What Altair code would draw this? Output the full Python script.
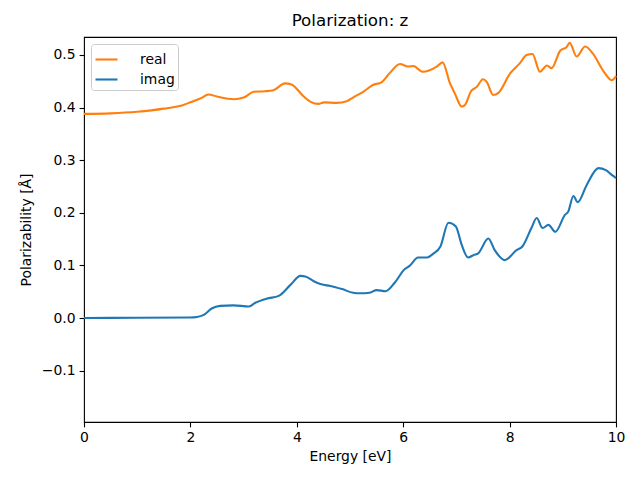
import altair as alt
import pandas as pd

energy_real = [0.0, 0.5, 1.0, 1.5, 1.87, 2.0, 2.2, 2.34, 2.5, 2.82, 3.0, 3.19, 3.4, 3.56, 3.78, 3.90,
               4.13, 4.26, 4.41, 4.51, 4.75, 4.94, 5.07, 5.25, 5.43, 5.59, 5.75, 5.94, 6.09, 6.19,
               6.37, 6.63, 6.74, 6.88, 6.97, 7.10, 7.16, 7.28, 7.38, 7.50, 7.57, 7.69, 7.79, 8.01,
               8.19, 8.32, 8.43, 8.57, 8.70, 8.79, 8.95, 9.07, 9.13, 9.26, 9.42, 9.57, 9.76, 9.92, 10.0]
real_vals = [0.388, 0.389, 0.392, 0.398, 0.405, 0.410, 0.418, 0.425, 0.421, 0.416, 0.419, 0.430, 0.431, 0.433, 0.446, 0.444,
             0.421, 0.411, 0.407, 0.410, 0.409, 0.412, 0.420, 0.430, 0.443, 0.448, 0.466, 0.483, 0.478, 0.479,
             0.468, 0.478, 0.486, 0.446, 0.427, 0.402, 0.405, 0.432, 0.439, 0.454, 0.449, 0.424, 0.428, 0.465,
             0.484, 0.500, 0.502, 0.468, 0.480, 0.475, 0.508, 0.515, 0.523, 0.497, 0.516, 0.502, 0.470, 0.452, 0.460]

energy_imag = [0.0, 1.0, 2.0, 2.12, 2.25, 2.40, 2.56, 2.81, 3.10, 3.22, 3.44, 3.66, 3.88, 4.07, 4.16, 4.32,
               4.46, 4.63, 4.85, 5.06, 5.18, 5.37, 5.50, 5.67, 5.84, 6.03, 6.12, 6.28, 6.45, 6.56,
               6.70, 6.85, 6.99, 7.10, 7.22, 7.33, 7.41, 7.60, 7.72, 7.91, 8.13, 8.24, 8.41, 8.51,
               8.62, 8.73, 8.86, 9.04, 9.10, 9.20, 9.28, 9.45, 9.67, 9.81, 9.92, 10.0]
imag_vals = [0.0, 0.0005, 0.001, 0.002, 0.006, 0.018, 0.023, 0.024, 0.022, 0.029, 0.037, 0.042, 0.063, 0.080, 0.079, 0.070,
             0.064, 0.061, 0.055, 0.048, 0.047, 0.048, 0.053, 0.051, 0.067, 0.093, 0.099, 0.115, 0.115, 0.122,
             0.136, 0.181, 0.174, 0.139, 0.115, 0.120, 0.123, 0.151, 0.129, 0.110, 0.129, 0.136, 0.171, 0.190,
             0.171, 0.177, 0.164, 0.196, 0.202, 0.232, 0.220, 0.253, 0.285, 0.281, 0.272, 0.266]

series_names = ["real", "imag"]
series_colors = ["#ff7f0e", "#1f77b4"]

df = pd.concat([
    pd.DataFrame({"energy": energy_real, "value": real_vals, "series": "real"}),
    pd.DataFrame({"energy": energy_imag, "value": imag_vals, "series": "imag"}),
])

FONT = "DejaVu Sans"

chart = alt.Chart(df).mark_line(strokeWidth=2.1, interpolate="monotone").encode(
    x=alt.X("energy:Q", title="Energy [eV]",
            scale=alt.Scale(domain=[0, 10], nice=False, zero=False),
            axis=alt.Axis(values=[0, 2, 4, 6, 8, 10], format="d", labelFlush=False)),
    y=alt.Y("value:Q", title="Polarizability [Å]",
            scale=alt.Scale(domain=[-0.1977, 0.5342], nice=False, zero=False),
            axis=alt.Axis(values=[-0.1, 0.0, 0.1, 0.2, 0.3, 0.4, 0.5], format=".1f", labelFlush=False)),
    color=alt.Color("series:N", scale=alt.Scale(domain=series_names, range=series_colors),
                    legend=alt.Legend(title=None, orient="none", legendX=7, legendY=7,
                                      symbolType="stroke", symbolSize=484, symbolStrokeWidth=2.1,
                                      labelFontSize=13.9, labelFont=FONT, labelOffset=21,
                                      rowPadding=0, padding=3, strokeColor="#cccccc",
                                      fillColor="#ffffff", cornerRadius=3)),
    detail="series:N",
).properties(
    width=532, height=385,
    title=alt.TitleParams("Polarization: z", fontSize=16.7, font=FONT, fontWeight="normal",
                          offset=7, anchor="middle"),
    padding={"left": 76, "top": 29, "right": 16, "bottom": 50},
    autosize=alt.AutoSizeParams(type="none"),
).configure_view(
    stroke="black", strokeWidth=1.1
).configure_axis(
    grid=False, domain=False, tickColor="black", tickSize=4.9, tickWidth=1.1,
    labelFont=FONT, labelFontSize=13.9, labelColor="black", labelPadding=4,
    titleFont=FONT, titleFontSize=13.9, titleFontWeight="normal", titleColor="black",
).configure_axisX(titlePadding=5).configure_axisY(titlePadding=8)

chart.save("out.html", embed_options={"renderer": "svg", "actions": False})
